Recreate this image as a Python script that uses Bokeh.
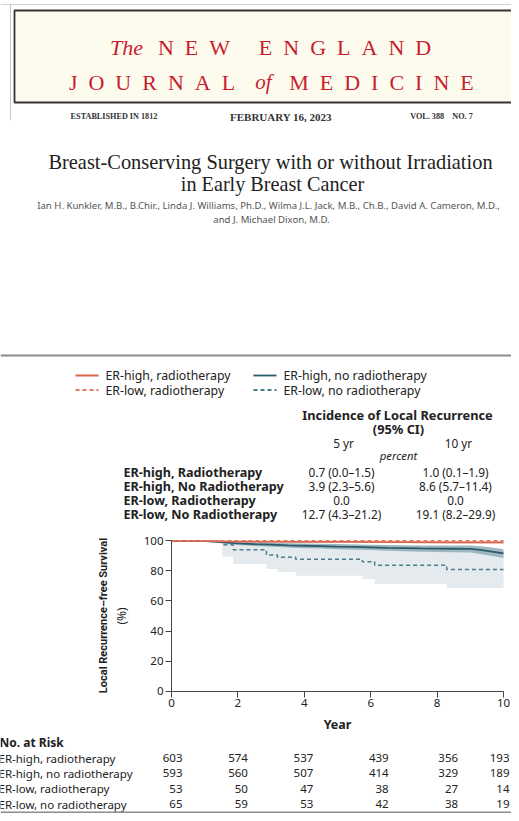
from math import pi
from bokeh.plotting import figure
from bokeh.models import Range1d, LinearAxis, FixedTicker
from bokeh.core.properties import value
from bokeh.embed import file_html
from bokeh.resources import INLINE

# ---------------- data ----------------
year_ticks = [0, 2, 4, 6, 8, 10]
pct_ticks = [0, 20, 40, 60, 80, 100]

# ER-high, radiotherapy
hr_t = [0, 1.0, 1.5, 2.5, 4.0, 5.0, 7.0, 8.5, 10.0]
hr_s = [100, 99.8, 99.6, 99.4, 99.3, 99.3, 99.1, 99.0, 99.0]
hr_lo = [100, 99.5, 99.1, 98.8, 98.6, 98.5, 98.3, 98.1, 98.1]
hr_hi = [100, 100, 100, 100, 100, 100, 99.9, 99.9, 99.9]

# ER-high, no radiotherapy
hn_t = [0, 0.5, 1.0, 1.3, 1.6, 2.0, 2.5, 3.0, 3.5, 4.0, 4.5, 5.0, 5.5, 6.0,
        6.5, 7.0, 7.5, 8.0, 8.5, 9.0, 9.3, 9.6, 10.0]
hn_s = [100, 100, 99.8, 99.5, 98.9, 98.3, 97.8, 97.4, 97.0, 96.7, 96.4, 96.1,
        95.9, 95.6, 95.3, 95.1, 94.9, 94.8, 94.7, 94.6, 93.9, 93.0, 91.6]
hn_lo = [100, 100, 99.4, 98.9, 98.0, 97.2, 96.6, 96.0, 95.5, 95.1, 94.8, 94.4,
         94.1, 93.8, 93.4, 93.1, 92.8, 92.6, 92.4, 92.2, 91.2, 90.0, 88.6]
hn_hi = [100, 100, 100, 100, 99.7, 99.3, 99.0, 98.7, 98.4, 98.2, 98.0, 97.8,
         97.6, 97.4, 97.2, 97.0, 96.9, 96.8, 96.8, 96.8, 96.3, 95.7, 94.4]

# ER-low, radiotherapy (no events)
lr_t = [0, 10.0]
lr_s = [100, 100]

# ER-low, no radiotherapy (step curve)
ln_t = [0, 1.53, 1.86, 2.86, 3.19, 3.74, 5.75, 6.12, 8.29, 10.0]
ln_s = [100, 97.3, 94.0, 90.5, 89.0, 87.7, 86.0, 83.8, 81.0, 81.0]
ln_lo = [100, 89.6, 84.5, 81.2, 79.5, 76.8, 74.6, 71.3, 68.6, 68.6]
ln_hi = [100, 99.6, 99.2, 98.6, 98.0, 97.5, 97.0, 96.0, 93.6, 93.6]

legend_labels = ["ER-high, radiotherapy", "ER-high, no radiotherapy",
                 "ER-low, radiotherapy", "ER-low, no radiotherapy"]
table_rows = ["ER-high, Radiotherapy", "ER-high, No Radiotherapy",
              "ER-low, Radiotherapy", "ER-low, No Radiotherapy"]
inc_5yr = ["0.7 (0.0\u20131.5)", "3.9 (2.3\u20135.6)", "0.0", "12.7 (4.3\u201321.2)"]
inc_10yr = ["1.0 (0.1\u20131.9)", "8.6 (5.7\u201311.4)", "0.0", "19.1 (8.2\u201329.9)"]

risk_years = [0, 2, 4, 6, 8, 10]
risk_labels = ["ER-high, radiotherapy", "ER-high, no radiotherapy",
               "ER-low, radiotherapy", "ER-low, no radiotherapy"]
risk_hr = [603, 574, 537, 439, 356, 193]
risk_hn = [593, 560, 507, 414, 329, 189]
risk_lr = [53, 50, 47, 38, 27, 14]
risk_ln = [65, 59, 53, 42, 38, 19]

# ---------------- styles ----------------
RED = "#d8644b"
RED_D = "#df7a62"
BLUE = "#2c5a6a"
BLUE_D = "#4b7d8e"
BAND_HN = "#93b1bd"
BAND_LN = "#e4eaee"
BAND_HR = "#f3cbbf"
NEJM_RED = "#c91d2e"
SANS = "Noto Sans"
SERIF = "Liberation Serif"
SP = "\u2002"

# canvas geometry (pixels, origin at top-left of the figure)
W, H = 511, 813
X0, X10 = 171.0, 503.0        # x pixel of year 0 and year 10
Y0, Y100 = 690.7, 540.3       # y pixel of 0 % and 100 %
pxy = (X10 - X0) / 10.0
pyu = (Y0 - Y100) / 100.0
RISK_DX = [11, 10, 9, 18, 21, 6]   # right-edge offsets of the at-risk columns (px)

p = figure(width=W, height=H,
           x_range=Range1d((0 - X0) / pxy, (W - X0) / pxy),
           y_range=Range1d((Y0 - H) / pyu, (Y0 - 0) / pyu),
           x_axis_type=None, y_axis_type=None, min_border=0,
           toolbar_location=None, output_backend="svg", outline_line_color=None)
p.extra_x_ranges = {"px": Range1d(0, W)}
p.extra_y_ranges = {"py": Range1d(H, 0)}
p.grid.visible = False
p.background_fill_color = "white"
p.border_fill_color = "white"

PX = dict(x_range_name="px", y_range_name="py")


def txt(x, y, s, size, font=SANS, color="#222222", style="normal",
        align="left", baseline="middle", angle=0):
    p.text(x=[x], y=[y], text=[s], text_font=value(font),
           text_font_size=f"{size}px", text_color=color, text_font_style=style,
           text_align=align, text_baseline=baseline, angle=angle, **PX)


def spaced(word):
    return SP.join(list(word))


def expand_steps(t, y):
    X, Y = [], []
    for i in range(len(t) - 1):
        X += [t[i], t[i + 1]]
        Y += [y[i], y[i]]
    X.append(t[-1])
    Y.append(y[-1])
    return X, Y


# ---------------- header ----------------
p.segment(x0=[0], y0=[4], x1=[530], y1=[4], line_color="#d0d0d0", line_width=1, **PX)
p.segment(x0=[10], y0=[4], x1=[10], y1=[120], line_color="#c8c8c8", line_width=1, **PX)
p.quad(left=[14], right=[560], top=[10], bottom=[102], fill_color="#fdfbee",
       line_color="#333333", line_width=1.8, **PX)

txt(126, 46.7, "The", 22, SERIF, NEJM_RED, "italic", "center", "alphabetic")
txt(193.5, 46.7, spaced("NEW"), 22, SERIF, NEJM_RED, "normal", "center", "alphabetic")
txt(344.5, 46.7, spaced("ENGLAND"), 22, SERIF, NEJM_RED, "normal", "center", "alphabetic")
txt(151.5, 81.5, spaced("JOURNAL"), 22, SERIF, NEJM_RED, "normal", "center", "alphabetic")
txt(263, 81.5, "of", 21, SERIF, NEJM_RED, "italic", "center", "alphabetic")
txt(381, 81.5, spaced("MEDICINE"), 22, SERIF, NEJM_RED, "normal", "center", "alphabetic")

txt(113.5, 116, "ESTABLISHED IN 1812", 8.2, SERIF, "#333333", "bold", "center", "alphabetic")
txt(280.5, 116.5, "FEBRUARY 16, 2023", 11, SERIF, "#333333", "bold", "center", "alphabetic")
txt(441, 116, "VOL. 388\u2003NO. 7", 8.2, SERIF, "#333333", "bold", "center", "alphabetic")

txt(270, 161.5, "Breast-Conserving Surgery with or without Irradiation", 20.4,
    SERIF, "#222222", "normal", "center", "alphabetic")
txt(272, 183.5, "in Early Breast Cancer", 20.2, SERIF, "#222222", "normal",
    "center", "alphabetic")
txt(268, 205, "Ian H. Kunkler, M.B., B.Chir., Linda J. Williams, Ph.D., "
    "Wilma J.L. Jack, M.B., Ch.B., David A. Cameron, M.D.,", 9.6, SANS, "#555555",
    "normal", "center", "alphabetic")
txt(271, 218.5, "and J. Michael Dixon, M.D.", 9.6, SANS, "#555555", "normal",
    "center", "alphabetic")

p.segment(x0=[0], y0=[355], x1=[530], y1=[355], line_color="#8c8c8c", line_width=2, **PX)

# ---------------- legend (manual) ----------------
leg_x = [75, 253, 75, 253]
leg_y = [375, 375, 389.5, 389.5]
leg_col = [RED, BLUE, RED_D, BLUE_D]
leg_dash = ["solid", "solid", "4 3", "4 3"]
for i, lab in enumerate(legend_labels):
    p.segment(x0=[leg_x[i]], y0=[leg_y[i]], x1=[leg_x[i] + 23], y1=[leg_y[i]],
              line_color=leg_col[i], line_width=1.8, line_dash=leg_dash[i], **PX)
    txt(leg_x[i] + 30, leg_y[i], lab, 12.3, SANS, "#222222")

# ---------------- incidence table ----------------
txt(397, 414, "Incidence of Local Recurrence", 12.8, SANS, "#222222", "bold", "center")
txt(398, 428, "(95% CI)", 12.8, SANS, "#222222", "bold", "center")
txt(343, 442, "5 yr", 11.8, SANS, "#222222", "normal", "center")
txt(458, 442, "10 yr", 11.8, SANS, "#222222", "normal", "center")
txt(398, 454.5, "percent", 11.3, SANS, "#222222", "italic", "center")
row_y = [471.5, 485.5, 499.5, 513.5]
for i in range(4):
    txt(123, row_y[i], table_rows[i], 12.6, SANS, "#222222", "bold")
    txt(341, row_y[i], inc_5yr[i], 11.8, SANS, "#222222", "normal", "center")
    txt(455, row_y[i], inc_10yr[i], 11.8, SANS, "#222222", "normal", "center")

# ---------------- KM plot ----------------
bx, blo = expand_steps(ln_t, ln_lo)
_, bhi = expand_steps(ln_t, ln_hi)
p.varea(x=bx, y1=blo, y2=bhi, fill_color=BAND_LN)
p.varea(x=hn_t, y1=hn_lo, y2=hn_hi, fill_color=BAND_HN, fill_alpha=0.9)
p.varea(x=hr_t, y1=hr_lo, y2=hr_hi, fill_color=BAND_HR, fill_alpha=0.8)

p.step(x=ln_t, y=ln_s, mode="after", line_color=BLUE_D, line_width=1.5, line_dash="4 3")
p.line(x=hn_t, y=hn_s, line_color=BLUE, line_width=1.8)
p.line(x=hr_t, y=hr_s, line_color=RED, line_width=1.8)
p.line(x=lr_t, y=lr_s, line_color=RED_D, line_width=1.5, line_dash="4 3")

axis_style = dict(axis_line_color="#444444", major_tick_line_color="#444444",
                  major_tick_out=6, major_tick_in=0, minor_tick_line_color=None,
                  major_label_text_font=SANS, major_label_text_font_size="11.5px",
                  major_label_text_color="#222222", major_label_standoff=2,
                  axis_label_text_color="#222222", axis_label_text_font=SANS)

xax = LinearAxis(fixed_location=0, ticker=FixedTicker(ticks=year_ticks), bounds=(0, 10),
                 axis_label="Year", axis_label_text_font_style="bold",
                 axis_label_text_font_size="12.5px", axis_label_standoff=5, **axis_style)
p.add_layout(xax, "below")
yax = LinearAxis(fixed_location=0, ticker=FixedTicker(ticks=pct_ticks), bounds=(0, 100),
                 axis_label="(%)", axis_label_text_font_style="normal",
                 axis_label_text_font_size="12px", axis_label_standoff=11, **axis_style)
p.add_layout(yax, "left")

txt(103, 615, "Local Recurrence\u2013free Survival", 11, "Roboto", "#222222", "bold",
    "center", "middle", angle=pi / 2)

# ---------------- risk table ----------------
txt(-1, 742, "No. at Risk", 12, SANS, "#222222", "bold")
risk_rows = [risk_hr, risk_hn, risk_lr, risk_ln]
risk_y = [757.7, 772.9, 788.3, 803.5]
for i in range(4):
    txt(-2, risk_y[i], risk_labels[i], 11.5, SANS, "#222222")
    p.text(x=risk_years, y=[risk_y[i]] * len(risk_years),
           text=[str(v) for v in risk_rows[i]], y_range_name="py",
           x_offset=RISK_DX,
           text_font=value(SANS), text_font_size="11.5px", text_color="#222222",
           text_align="right", text_baseline="middle")
p.segment(x0=[0], y0=[812], x1=[530], y1=[812], line_color="#8c8c8c",
          line_width=2, **PX)

open("out.html", "w").write(file_html(p, INLINE))
